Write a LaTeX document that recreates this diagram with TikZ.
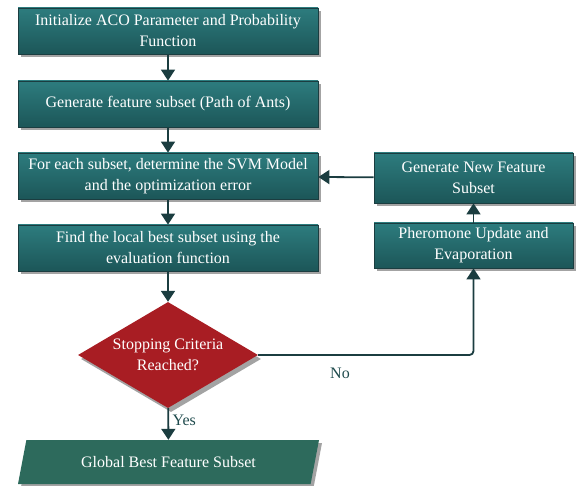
\documentclass[tikz,border=0pt]{standalone}
\usepackage{fontspec}
\setmainfont{Liberation Serif}
\usetikzlibrary{shapes.geometric, arrows.meta, shadows}

\definecolor{tealtop}{HTML}{2D7C7E}
\definecolor{tealbot}{HTML}{1C5658}
\definecolor{tealline}{HTML}{1B3D40}
\definecolor{decred}{HTML}{A81D23}
\definecolor{outgreen}{HTML}{2D6A5C}
\definecolor{labcol}{HTML}{1E4A4C}

\begin{document}
\begin{tikzpicture}[x=1pt, y=-1pt,
  proc/.style={rectangle, draw=tealline, thick, top color=tealtop, bottom color=tealbot, minimum height=46pt, align=center, text=white, font=\fontsize{16}{21}\selectfont, inner sep=1pt, drop shadow={shadow xshift=3pt, shadow yshift=-3pt, fill=black!45, opacity=0.8}},
  dec/.style={diamond, fill=decred, aspect=1.7, inner sep=0pt, minimum width=180pt, minimum height=106pt, align=center, text=white, font=\fontsize{16}{21}\selectfont, drop shadow={shadow xshift=3pt, shadow yshift=-4pt, fill=black!45, opacity=0.8}},
  outp/.style={trapezium, trapezium left angle=65, trapezium right angle=115, trapezium stretches body, fill=outgreen, minimum width=301pt, minimum height=44pt, text=white, font=\fontsize{16}{21}\selectfont, drop shadow={shadow xshift=3pt, shadow yshift=-3pt, fill=black!45, opacity=0.8}},
  arr/.style={-{Triangle[width=14pt, length=11pt]}, draw=tealline, line width=1.8pt},
  lab/.style={text=labcol, font=\fontsize{16}{21}\selectfont}
]
\useasboundingbox (0,0) rectangle (576,486);

% Main column
\node[proc, minimum width=300pt] (init) at (168,31) {Initialize ACO Parameter and Probability\\Function};
\node[proc, minimum width=300pt] (gen) at (168,104) {Generate feature subset (Path of Ants)};
\node[proc, minimum width=300pt] (svm) at (168,176) {For each subset, determine the SVM Model\\and the optimization error};
\node[proc, minimum width=300pt] (local) at (168,248) {Find the local best subset using the\\evaluation function};
\node[dec] (stop) at (168,355) {Stopping Criteria\\Reached?};
\node[outp] (best) at (168.5,462) {Global Best Feature Subset};

% Update loop
\node[proc, minimum width=199pt, minimum height=50pt] (newsub) at (473.5,178) {Generate New Feature\\Subset};
\node[proc, minimum width=199pt, minimum height=45pt] (pher) at (473.5,245.5) {Pheromone Update and\\Evaporation};

% Connections
\draw[arr] (init) -- (gen);
\draw[arr] (gen) -- (svm);
\draw[arr] (svm) -- (local);
\draw[arr] (local) -- (stop);
\draw[arr] (stop) -- node[lab, right, pos=0.4] {Yes} (best);
\draw[arr, rounded corners=4pt] (stop.east) -| node[lab, below=9pt, pos=0.19] {No} (pher.south);
\draw[arr] (pher) -- (newsub);
\draw[arr] (newsub) -- (svm);

\end{tikzpicture}
\end{document}
